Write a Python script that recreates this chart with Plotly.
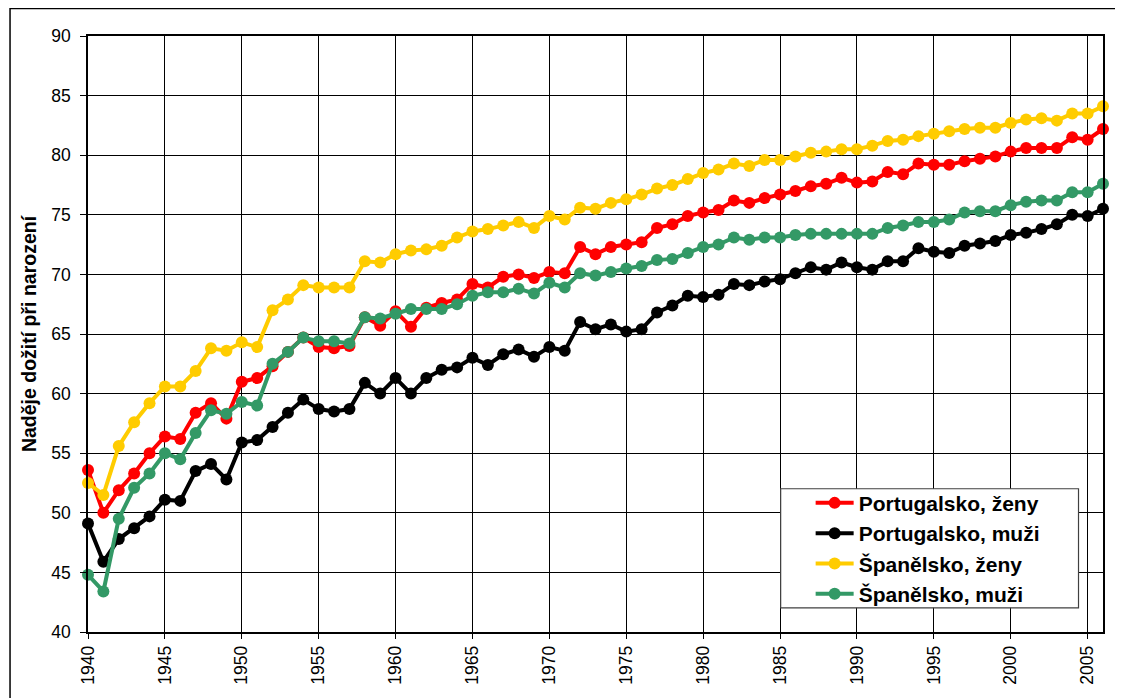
import plotly.graph_objects as go

years = list(range(1940, 2007))

portugal_zeny = [53.6, 50.0, 51.9, 53.3, 55.0, 56.4, 56.2, 58.4, 59.2, 57.9,
                 61.0, 61.3, 62.3, 63.5, 64.7, 63.9, 63.8, 64.0, 66.4, 65.7,
                 66.9, 65.6, 67.2, 67.6, 67.9, 69.2, 68.9, 69.8, 70.0, 69.7,
                 70.2, 70.1, 72.3, 71.7, 72.3, 72.5, 72.7, 73.9, 74.2, 74.9,
                 75.2, 75.4, 76.2, 76.0, 76.4, 76.7, 77.0, 77.4, 77.6, 78.1,
                 77.7, 77.8, 78.6, 78.4, 79.3, 79.2, 79.2, 79.5, 79.7, 79.9,
                 80.3, 80.6, 80.6, 80.6, 81.5, 81.3, 82.2]

portugal_muzi = [49.1, 45.9, 47.8, 48.7, 49.7, 51.1, 51.0, 53.5, 54.1, 52.8,
                 55.9, 56.1, 57.2, 58.4, 59.5, 58.7, 58.5, 58.7, 60.9, 60.0,
                 61.3, 60.0, 61.3, 62.0, 62.2, 63.0, 62.4, 63.3, 63.7, 63.1,
                 63.9, 63.6, 66.0, 65.4, 65.8, 65.2, 65.4, 66.8, 67.4, 68.2,
                 68.1, 68.3, 69.2, 69.1, 69.4, 69.6, 70.1, 70.6, 70.4, 71.0,
                 70.6, 70.4, 71.1, 71.1, 72.2, 71.9, 71.8, 72.4, 72.6, 72.8,
                 73.3, 73.5, 73.8, 74.2, 75.0, 74.9, 75.5]

spanelsko_zeny = [52.5, 51.5, 55.6, 57.6, 59.2, 60.6, 60.6, 61.9, 63.8, 63.6,
                  64.3, 63.9, 67.0, 67.9, 69.1, 68.9, 68.9, 68.9, 71.1, 71.0,
                  71.7, 72.0, 72.1, 72.4, 73.1, 73.6, 73.8, 74.1, 74.4, 73.9,
                  74.9, 74.6, 75.6, 75.5, 76.0, 76.3, 76.7, 77.2, 77.5, 78.0,
                  78.5, 78.8, 79.3, 79.1, 79.6, 79.6, 79.9, 80.2, 80.3, 80.5,
                  80.5, 80.8, 81.2, 81.3, 81.6, 81.8, 82.0, 82.2, 82.3, 82.3,
                  82.7, 83.0, 83.1, 82.9, 83.5, 83.5, 84.1]

spanelsko_muzi = [44.8, 43.4, 49.5, 52.1, 53.3, 55.0, 54.5, 56.7, 58.6, 58.3,
                  59.3, 59.0, 62.5, 63.5, 64.7, 64.4, 64.4, 64.2, 66.4, 66.3,
                  66.7, 67.1, 67.1, 67.1, 67.5, 68.2, 68.5, 68.5, 68.8, 68.4,
                  69.3, 68.9, 70.1, 69.9, 70.2, 70.5, 70.7, 71.2, 71.3, 71.8,
                  72.3, 72.5, 73.1, 72.9, 73.1, 73.1, 73.3, 73.4, 73.4, 73.4,
                  73.4, 73.4, 73.9, 74.1, 74.4, 74.4, 74.6, 75.2, 75.3, 75.3,
                  75.8, 76.1, 76.2, 76.2, 76.9, 76.9, 77.6]

series_names = ["Portugalsko, ženy", "Portugalsko, muži", "Španělsko, ženy", "Španělsko, muži"]
series_values = [portugal_zeny, portugal_muzi, spanelsko_zeny, spanelsko_muzi]
series_colors = ["#FF0000", "#000000", "#FFCC00", "#339966"]

x_tickvals = list(range(1940, 2006, 5))
y_tickvals = list(range(40, 91, 5))

FONT = "Liberation Sans, Arial, sans-serif"

fig = go.Figure()
for i, (name, vals, col) in enumerate(zip(series_names, series_values, series_colors)):
    fig.add_trace(go.Scatter(
        x=years, y=vals, name=name, mode="lines+markers",
        line=dict(color=col, width=4),
        marker=dict(color=col, size=12, symbol="circle"),
        legendgroup=f"g{i}",
        cliponaxis=False,
    ))

# page body has an 8px margin, so the figure is drawn at (8, 8)
OFF = 8
W, H = 1123 - OFF, 698 - OFF
L, R, T, B = 88 - OFF, 19.5, 36 - OFF, 66.3
pw = W - L - R
ph = H - T - B


def px_x(xp):  # page x pixel -> paper fraction
    return (xp - OFF - L) / pw


def px_y(yp):  # page y pixel -> paper fraction
    return (H - B - (yp - OFF)) / ph


fig.update_layout(
    width=W, height=H,
    margin=dict(l=L, r=R, t=T, b=B, autoexpand=False),
    paper_bgcolor="white", plot_bgcolor="white",
    font=dict(family=FONT, color="black", size=17),
    showlegend=True,
    legend=dict(
        x=px_x(811), y=px_y(482.5),
        xanchor="left", yanchor="top",
        bgcolor="rgba(0,0,0,0)", borderwidth=0,
        font=dict(family=FONT, size=21, color="black", weight="bold"),
        tracegroupgap=0,
        traceorder="grouped",
        itemwidth=38,
    ),
    xaxis=dict(
        range=[1940, 2006],
        tickmode="array", tickvals=x_tickvals,
        ticktext=[str(v) for v in x_tickvals],
        tickangle=-90,
        ticks="outside", ticklen=5, tickcolor="black", tickwidth=1,
        showgrid=True, gridcolor="black", gridwidth=1,
        showline=True, linecolor="black", linewidth=1.5, mirror=True,
        zeroline=False,
        tickfont=dict(family=FONT, size=17.5, color="black"),
    ),
    yaxis=dict(
        range=[40, 90],
        tickmode="array", tickvals=y_tickvals,
        ticks="outside", ticklen=6, tickcolor="black", tickwidth=1,
        showgrid=True, gridcolor="black", gridwidth=1,
        showline=True, linecolor="black", linewidth=1.5, mirror=True,
        zeroline=False,
        tickfont=dict(family=FONT, size=17.5, color="black"),
        ticklabelstandoff=6,
        title=dict(text="<b>Naděje dožití při narození</b>",
                   font=dict(family=FONT, size=19.5, color="black"),
                   standoff=9),
    ),
    shapes=[
        dict(  # outer chart frame
            type="rect", xref="paper", yref="paper",
            x0=px_x(10), x1=px_x(1150),
            y0=px_y(720), y1=px_y(8.5),
            line=dict(color="black", width=1.5), fillcolor="rgba(0,0,0,0)",
            layer="below",
        ),
        dict(  # legend frame
            type="rect", xref="paper", yref="paper",
            x0=px_x(781), x1=px_x(1079),
            y0=px_y(607.5), y1=px_y(488.5),
            line=dict(color="#404040", width=1.2), fillcolor="white",
            layer="above",
        ),
    ],
)

fig.write_html("out.html")
